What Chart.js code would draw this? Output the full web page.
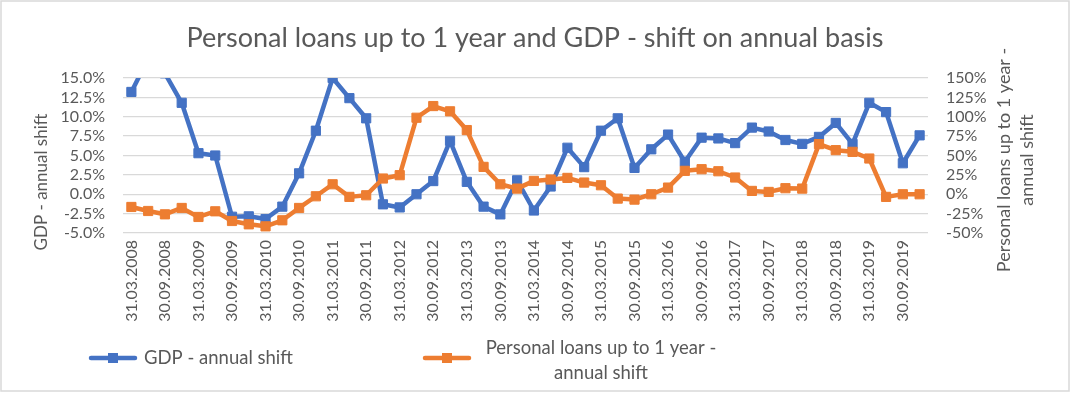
<!DOCTYPE html>
<html>
<head>
<meta charset="utf-8">
<script src="https://cdn.jsdelivr.net/npm/chart.js@4/dist/chart.umd.min.js"></script>
<style>
html,body{margin:0;padding:0;background:#fff;}
#wrap{width:1072px;height:393px;position:relative;}
</style>
</head>
<body>
<div id="wrap"><canvas id="c" width="1072" height="393"></canvas></div>
<script>
const chartTitle = "Personal loans up to 1 year and GDP - shift on annual basis";
const gdpLabel = "GDP - annual shift";
const loansLabel = "Personal loans up to 1 year - annual shift";
const loansLabelLines = ["Personal loans up to 1 year -", "annual shift"];

const quarters = [
  "31.03.2008","30.06.2008","30.09.2008","31.12.2008",
  "31.03.2009","30.06.2009","30.09.2009","31.12.2009",
  "31.03.2010","30.06.2010","30.09.2010","31.12.2010",
  "31.03.2011","30.06.2011","30.09.2011","31.12.2011",
  "31.03.2012","30.06.2012","30.09.2012","31.12.2012",
  "31.03.2013","30.06.2013","30.09.2013","31.12.2013",
  "31.03.2014","30.06.2014","30.09.2014","31.12.2014",
  "31.03.2015","30.06.2015","30.09.2015","31.12.2015",
  "31.03.2016","30.06.2016","30.09.2016","31.12.2016",
  "31.03.2017","30.06.2017","30.09.2017","31.12.2017",
  "31.03.2018","30.06.2018","30.09.2018","31.12.2018",
  "31.03.2019","30.06.2019","30.09.2019","31.12.2019"
];

// GDP - annual shift (%), left axis
const gdpShift = [
  13.2, 17.5, 15.6, 11.8,
  5.3, 5.0, -2.9, -2.85,
  -3.2, -1.6, 2.7, 8.2,
  15.0, 12.4, 9.8, -1.3,
  -1.7, 0.0, 1.7, 6.9,
  1.6, -1.6, -2.6, 1.8,
  -2.1, 1.0, 6.0, 3.5,
  8.2, 9.8, 3.4, 5.8,
  7.7, 4.2, 7.3, 7.2,
  6.6, 8.6, 8.1, 7.0,
  6.5, 7.4, 9.2, 6.5,
  11.8, 10.6, 4.0, 7.6
];

// Personal loans up to 1 year - annual shift (%), right axis
const loansShift = [
  -16.4, -21.6, -25.9, -17.7,
  -29.3, -22.0, -34.5, -38.8,
  -41.4, -33.6, -17.7, -2.6,
  12.9, -3.4, -1.3, 20.3,
  24.6, 98.7, 113.8, 107.0,
  82.8, 35.3, 12.9, 7.3,
  17.2, 19.0, 21.1, 15.1,
  11.6, -5.6, -6.9, 0.0,
  8.6, 30.2, 32.3, 29.7,
  21.6, 4.3, 3.0, 7.8,
  7.3, 64.7, 56.9, 54.7,
  46.1, -3.4, 0.0, 0.0
];

const gdpAxis = { min: -5, max: 15, step: 2.5 };
const loansAxis = { min: -50, max: 150, step: 25 };

const BLUE = '#4472C4';
const ORANGE = '#ED7D31';
const TEXT = '#595959';
const FONT = 'Lato, "Liberation Sans", sans-serif';

const decor = {
  id: 'decor',
  beforeDraw(chart) {
    const ctx = chart.ctx;
    ctx.save();
    ctx.fillStyle = '#ffffff';
    ctx.fillRect(0, 0, chart.width, chart.height);
    ctx.restore();
  },
  afterDraw(chart) {
    const ctx = chart.ctx;
    ctx.save();
    // outer border
    ctx.strokeStyle = '#d9d9d9';
    ctx.lineWidth = 1.5;
    ctx.strokeRect(1, 1, 1068, 390);

    ctx.fillStyle = TEXT;
    ctx.textAlign = 'center';
    ctx.textBaseline = 'middle';
    // title
    ctx.font = '27px ' + FONT;
    ctx.fillText(chartTitle, 535, 38);

    // axis titles
    ctx.font = '17px ' + FONT;
    ctx.save();
    ctx.translate(42, 182);
    ctx.rotate(-Math.PI / 2);
    ctx.fillText(gdpLabel, 0, 0);
    ctx.restore();

    ctx.font = '18px ' + FONT;
    ctx.save();
    ctx.translate(1004, 160);
    ctx.rotate(-Math.PI / 2);
    ctx.fillText(loansLabelLines[0], 0, 0);
    ctx.restore();
    ctx.save();
    ctx.translate(1027, 160);
    ctx.rotate(-Math.PI / 2);
    ctx.fillText(loansLabelLines[1], 0, 0);
    ctx.restore();

    // legend
    const ds = chart.data.datasets;
    const items = [
      { x: 91, y: 358, ds: ds[0] },
      { x: 425, y: 358, ds: ds[1] }
    ];
    items.forEach(it => {
      ctx.strokeStyle = it.ds.borderColor;
      ctx.lineWidth = 4.5;
      ctx.lineCap = 'round';
      ctx.beginPath();
      ctx.moveTo(it.x, it.y);
      ctx.lineTo(it.x + 44, it.y);
      ctx.stroke();
      ctx.fillStyle = it.ds.borderColor;
      ctx.fillRect(it.x + 22 - 5, it.y - 5, 10, 10);
    });
    ctx.fillStyle = TEXT;
    ctx.font = '18.5px ' + FONT;
    ctx.textAlign = 'left';
    ctx.fillText(gdpLabel, 144, 358);
    ctx.textAlign = 'center';
    ctx.fillText(loansLabelLines[0], 601, 348);
    ctx.fillText(loansLabelLines[1], 601, 373);
    ctx.restore();
  }
};

new Chart(document.getElementById('c'), {
  type: 'line',
  data: {
    labels: quarters,
    datasets: [
      {
        label: gdpLabel,
        data: gdpShift,
        yAxisID: 'y',
        borderColor: BLUE,
        backgroundColor: BLUE,
        borderWidth: 4.5,
        pointStyle: 'rect',
        pointRadius: 6.5,
        pointBorderWidth: 1,
        pointBackgroundColor: BLUE,
        pointBorderColor: BLUE,
        tension: 0,
        borderJoinStyle: 'round',
        borderCapStyle: 'round',
        fill: false,
        order: 1
      },
      {
        label: loansLabel,
        data: loansShift,
        yAxisID: 'y1',
        borderColor: ORANGE,
        backgroundColor: ORANGE,
        borderWidth: 4.5,
        pointStyle: 'rect',
        pointRadius: 6.5,
        pointBorderWidth: 1,
        pointBackgroundColor: ORANGE,
        pointBorderColor: ORANGE,
        tension: 0,
        borderJoinStyle: 'round',
        borderCapStyle: 'round',
        fill: false,
        order: 0
      }
    ]
  },
  options: {
    responsive: false,
    animation: false,
    devicePixelRatio: 1,
    layout: { padding: { top: 78, bottom: 0, left: 0, right: 0 } },
    plugins: {
      legend: { display: false },
      title: { display: false },
      tooltip: { enabled: false }
    },
    scales: {
      x: {
        type: 'category',
        offset: true,
        grid: { display: false, drawTicks: false },
        border: { display: false },
        ticks: {
          autoSkip: false,
          maxRotation: 90,
          minRotation: 90,
          padding: 7,
          color: TEXT,
          font: { family: FONT, size: 16 },
          callback: function (v, i) { return i % 2 === 0 ? this.getLabelForValue(v) : ''; }
        },
        afterFit(s) { s.height = 160; }
      },
      y: {
        position: 'left',
        min: gdpAxis.min,
        max: gdpAxis.max,
        grid: { color: '#d9d9d9', lineWidth: 1.3, drawTicks: false },
        border: { display: false },
        ticks: {
          autoSkip: false,
          stepSize: gdpAxis.step,
          padding: 18,
          color: TEXT,
          font: { family: FONT, size: 16 },
          callback: v => v.toFixed(1) + '%'
        },
        afterFit(s) { s.width = 123; }
      },
      y1: {
        position: 'right',
        min: loansAxis.min,
        max: loansAxis.max,
        grid: { drawOnChartArea: false, drawTicks: false },
        border: { display: false },
        ticks: {
          autoSkip: false,
          stepSize: loansAxis.step,
          padding: 18,
          color: TEXT,
          font: { family: FONT, size: 16 },
          callback: v => Math.round(v) + '%'
        },
        afterFit(s) { s.width = 144; }
      }
    }
  },
  plugins: [decor]
});
</script>
</body>
</html>
